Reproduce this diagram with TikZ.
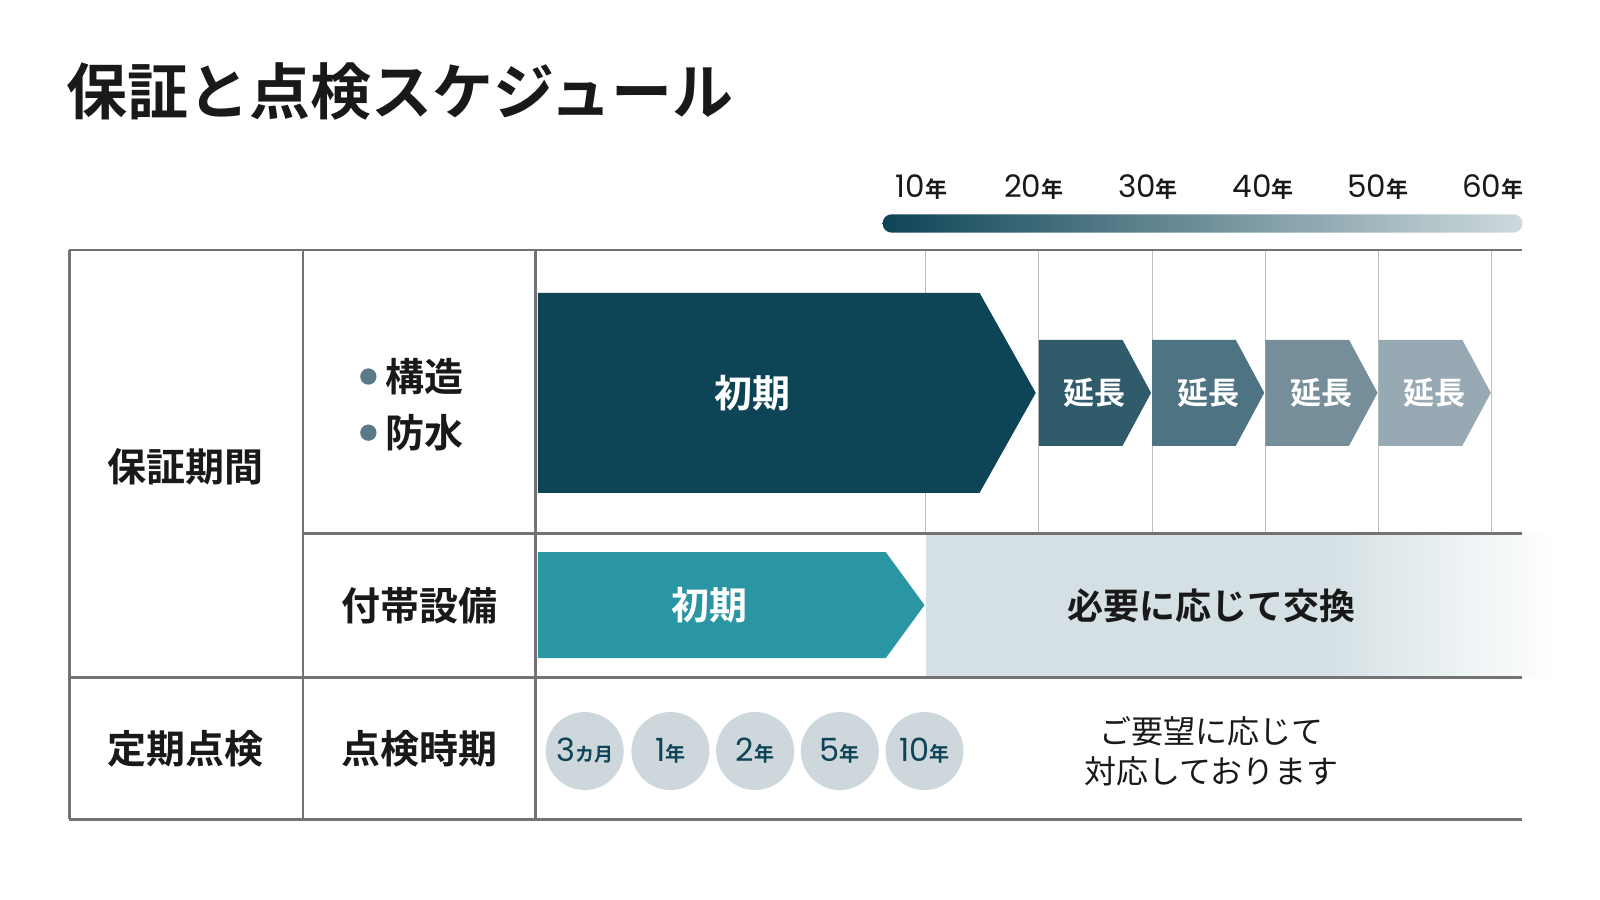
\documentclass[tikz,border=0pt]{standalone}
\usepackage{fontspec}
\setmainfont{Noto Sans CJK JP}[BoldFont={Noto Sans CJK JP Bold}]
\setsansfont{Poppins}
\begin{document}
\begin{tikzpicture}[x=1.0204pt,y=-1.0204pt,
  rule/.style={draw=black!55,line width=2.8pt},
  thin/.style={draw=black!25,line width=1pt},
  lbl/.style={font=\bfseries\fontsize{39}{44}\selectfont,text=black!90},
  arrtxt/.style={font=\bfseries\fontsize{38}{42}\selectfont,text=white},
  exttxt/.style={font=\bfseries\fontsize{31}{36}\selectfont,text=white},
  yr/.style={font=\sffamily\fontsize{31}{34}\selectfont,text=black!90,inner sep=0pt},
  circ/.style={circle,fill=circ,minimum size=78pt,inner sep=0pt,font=\sffamily\fontsize{32}{34}\selectfont,text=dk}]
\definecolor{dk}{HTML}{0E4556}
\definecolor{e1}{HTML}{2F5B6B}
\definecolor{e2}{HTML}{4E7383}
\definecolor{e3}{HTML}{758E9A}
\definecolor{e4}{HTML}{97A9B2}
\definecolor{tl}{HTML}{2A95A3}
\definecolor{pale}{HTML}{D4E0E4}
\definecolor{circ}{HTML}{CDD7DC}
\definecolor{dot}{HTML}{5A7A8A}
\useasboundingbox (0,0) rectangle (1568,882);
\node[anchor=west,font=\bfseries\fontsize{61}{66}\selectfont,text=black!90,inner sep=0pt] (title) at (65,90) {保証と点検スケジュール};
\foreach \x/\n [count=\i] in {903/10,1013/20,1125/30,1238/40,1350/50,1463/60}
  \node[yr] (y\i) at (\x,183) {\n{\rmfamily\bfseries\fontsize{22}{24}\selectfont 年}};
\shade[left color=dk,right color=dk!20,rounded corners=9pt] (865,210) rectangle (1492,228);
\fill[pale] (907,523) rectangle (1300,664);
\shade[left color=pale,right color=white] (1299,523) rectangle (1525,664);
\foreach \x in {907,1018,1129,1240,1351,1462} \draw[thin] (\x,245) -- (\x,523);
\draw[rule] (68,245) -- (1492,245);
\draw[rule] (68,803) -- (1492,803);
\draw[rule] (297,523) -- (1492,523);
\draw[rule] (68,664) -- (1492,664);
\draw[rule] (68,245) -- (68,803);
\draw[rule] (297,245) -- (297,803);
\draw[rule] (525,245) -- (525,803);
\fill[dk] (527,287) -- (960,287) -- (1015,385) -- (960,483) -- (527,483) -- cycle;
\node[arrtxt] (a1) at (737,385) {初期};
\foreach \x/\c [count=\i] in {1018/e1,1129/e2,1240/e3,1351/e4}{
  \fill[\c] (\x,333) -- (\x+82,333) -- (\x+110,385) -- (\x+82,437) -- (\x,437) -- cycle;
  \node[exttxt] (ext\i) at (\x+55,385) {延長};}
\fill[tl] (527,541) -- (868,541) -- (906,593) -- (868,645) -- (527,645) -- cycle;
\node[arrtxt] (a2) at (695,593) {初期};
\node[font=\bfseries\fontsize{36}{40}\selectfont,text=black!90] (rep) at (1187,594) {必要に応じて交換};
\node[lbl] (l1) at (182,457) {保証期間};
\node[lbl] (l2) at (182,734) {定期点検};
\node[lbl] (l3) at (411,594) {付帯設備};
\node[lbl] (l4) at (411,734) {点検時期};
\fill[dot] (361,369) circle (8);
\fill[dot] (361,424) circle (8);
\node[lbl,anchor=west] (s1) at (374,369) {構造};
\node[lbl,anchor=west] (s2) at (374,424) {防水};
\node[circ] (c1) at (573,736) {3{\rmfamily\bfseries\fontsize{19}{20}\selectfont カ月}};
\node[circ] (c2) at (657,736) {1{\rmfamily\bfseries\fontsize{20}{20}\selectfont 年}};
\node[circ] (c3) at (740,736) {2{\rmfamily\bfseries\fontsize{20}{20}\selectfont 年}};
\node[circ] (c4) at (823,736) {5{\rmfamily\bfseries\fontsize{20}{20}\selectfont 年}};
\node[circ] (c5) at (906,736) {10{\rmfamily\bfseries\fontsize{20}{20}\selectfont 年}};
\node[align=center,font=\fontsize{32}{40}\selectfont,text=black!90] (req) at (1187,736) {ご要望に応じて\\対応しております};
\end{tikzpicture}
\end{document}
